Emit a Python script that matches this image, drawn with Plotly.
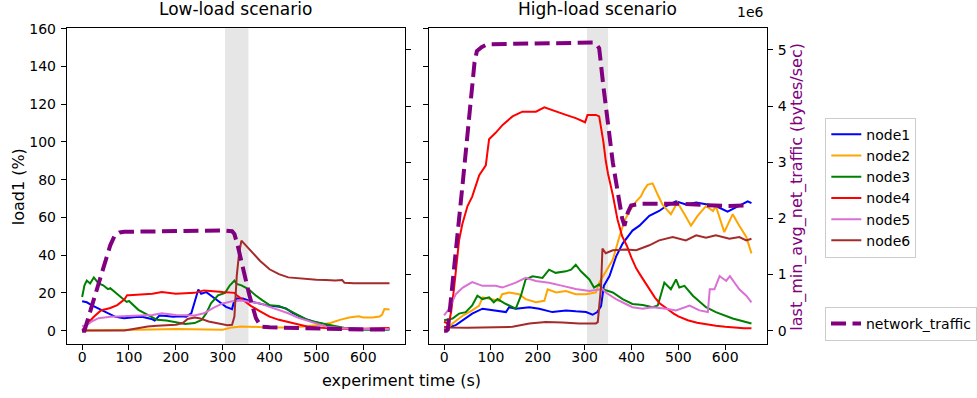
import plotly.graph_objects as go

# ---------------- data ----------------
# Low-load scenario
low_traffic_t = [0, 5, 20, 40, 60, 70, 80, 90, 150, 200, 250, 300, 320, 325, 331, 343, 357, 371, 382, 400, 450, 500, 550, 600, 656]
low_traffic_v = [0.0, 0.0, 0.42, 0.98, 1.52, 1.70, 1.75, 1.76, 1.77, 1.78, 1.785, 1.785, 1.77, 1.72, 1.55, 1.10, 0.63, 0.22, 0.07, 0.06, 0.05, 0.03, 0.02, 0.02, 0.02]

low_node1_t = [0, 10, 20, 30, 40, 50, 60, 70, 80, 90, 100, 110, 120, 130, 140, 150, 155, 165, 180, 194, 210, 222, 233, 240, 248, 254, 265, 279, 293, 307, 320, 323, 329, 343, 364, 393, 421, 435, 450, 464, 478, 492, 507, 521, 535, 560, 600, 656]
low_node1_v = [15.5, 15.0, 13.5, 12.2, 11.0, 9.8, 8.3, 7.4, 7.0, 6.6, 6.8, 7.0, 7.4, 7.2, 6.8, 6.0, 5.3, 8.0, 7.8, 7.4, 7.6, 7.4, 9.2, 15.5, 21.8, 19.5, 20.4, 17.8, 15.2, 12.6, 11.4, 14.4, 17.0, 17.0, 15.2, 13.5, 12.6, 11.8, 9.2, 7.4, 6.0, 4.8, 3.8, 3.1, 1.7, 1.3, 1.0, 0.9]

low_node2_t = [0, 50, 100, 150, 200, 250, 300, 320, 340, 400, 450, 500, 515, 530, 550, 570, 590, 600, 620, 635, 640, 645, 656]
low_node2_v = [0.0, 0.1, 0.4, 0.6, 0.8, 0.6, 0.5, 1.7, 2.2, 1.7, 1.7, 2.8, 3.5, 4.0, 5.7, 6.9, 7.6, 7.0, 6.9, 7.5, 8.3, 11.4, 11.2]

low_node3_t = [0, 5, 10, 17, 25, 35, 45, 55, 60, 70, 85, 95, 100, 120, 140, 160, 180, 200, 220, 240, 255, 265, 275, 290, 305, 315, 325, 330, 340, 355, 370, 385, 400, 420, 440, 460, 480, 500, 520, 540, 560, 600, 656]
low_node3_v = [17.8, 24.0, 26.5, 25.0, 28.2, 25.0, 24.0, 22.0, 22.5, 20.4, 17.0, 15.2, 15.7, 11.0, 8.3, 5.7, 5.4, 4.5, 3.5, 4.0, 5.7, 9.2, 14.4, 18.7, 20.0, 23.9, 26.5, 24.7, 24.0, 22.0, 18.7, 16.0, 13.5, 13.1, 11.0, 8.3, 5.7, 4.5, 3.5, 2.2, 1.4, 0.5, 0.5]

low_node4_t = [0, 9, 25, 40, 60, 75, 90, 96, 100, 150, 170, 200, 240, 260, 300, 325, 330, 345, 360, 380, 400, 420, 440, 460, 480, 500, 550, 600, 656]
low_node4_v = [0.0, 3.1, 7.3, 10.7, 12.0, 13.5, 16.5, 18.7, 18.7, 19.5, 20.4, 19.5, 20.0, 21.3, 20.4, 20.0, 18.7, 16.0, 13.1, 10.2, 7.4, 5.7, 4.5, 3.1, 2.2, 1.7, 1.0, 1.0, 1.4]

low_node5_t = [0, 10, 20, 35, 60, 100, 150, 170, 200, 240, 260, 280, 300, 320, 340, 360, 380, 400, 420, 440, 460, 480, 500, 520, 550, 600, 656]
low_node5_v = [2.5, 2.8, 4.8, 6.6, 7.4, 7.8, 8.3, 9.2, 8.3, 8.0, 9.2, 12.1, 14.4, 15.6, 16.0, 15.2, 14.4, 12.6, 11.0, 9.2, 6.9, 5.2, 3.5, 2.2, 1.4, 0.9, 0.9]

low_node6_t = [0, 90, 100, 120, 140, 160, 180, 200, 215, 225, 240, 250, 270, 290, 310, 320, 325, 330, 335, 340, 345, 360, 380, 400, 420, 440, 460, 480, 500, 520, 540, 555, 560, 580, 600, 656]
low_node6_v = [0.0, 0.0, 0.5, 1.4, 2.2, 2.6, 2.8, 3.1, 4.0, 6.2, 6.9, 6.6, 4.8, 3.6, 2.8, 3.1, 7.4, 29.0, 41.0, 47.7, 46.3, 42.0, 36.9, 32.5, 29.9, 28.2, 27.7, 27.3, 27.0, 26.8, 26.5, 26.8, 25.3, 25.1, 25.1, 25.1]

# High-load scenario
high_traffic_t = [0, 5, 8, 20, 30, 40, 50, 60, 65, 70, 80, 90, 100, 150, 200, 250, 300, 320, 325, 331, 340, 350, 360, 370, 380, 385, 392, 399, 420, 450, 500, 550, 600, 650]
high_traffic_v = [0.0, 0.0, 0.02, 0.95, 1.8, 2.65, 3.5, 4.35, 4.78, 4.98, 5.05, 5.09, 5.10, 5.11, 5.12, 5.12, 5.13, 5.13, 5.10, 5.03, 4.35, 3.6, 3.0, 2.5, 2.0, 1.87, 2.1, 2.23, 2.26, 2.26, 2.26, 2.24, 2.22, 2.23]

high_node1_t = [0, 10, 25, 40, 60, 82, 110, 132, 139, 153, 182, 203, 231, 260, 281, 303, 317, 327, 335, 341, 353, 367, 381, 402, 417, 438, 459, 474, 495, 516, 538, 559, 580, 605, 630, 648, 656]
high_node1_v = [1.5, 1.8, 2.9, 5.5, 9.0, 11.6, 10.7, 9.8, 12.4, 11.6, 12.4, 11.6, 9.8, 10.7, 10.2, 9.8, 8.4, 9.8, 13.0, 23.7, 28.9, 39.2, 46.1, 53.0, 55.6, 60.8, 63.4, 66.0, 68.5, 66.8, 67.9, 66.8, 66.0, 63.0, 66.0, 68.5, 67.5]

high_node2_t = [0, 11, 18, 40, 60, 75, 82, 103, 117, 124, 139, 160, 174, 196, 214, 221, 239, 260, 281, 303, 324, 331, 345, 360, 374, 385, 396, 410, 420, 427, 434, 445, 456, 466, 484, 498, 513, 527, 541, 559, 574, 580, 598, 616, 630, 645, 656]
high_node2_v = [1.5, 2.0, 3.8, 8.0, 10.7, 13.3, 17.6, 16.7, 15.8, 19.3, 20.2, 19.3, 16.7, 15.0, 15.8, 21.9, 20.2, 21.0, 19.3, 19.3, 20.2, 25.4, 31.0, 37.5, 49.6, 58.2, 63.4, 68.5, 71.1, 74.6, 77.2, 78.0, 72.0, 66.8, 61.7, 67.9, 61.7, 55.6, 60.8, 66.0, 63.4, 66.0, 52.2, 61.7, 55.6, 49.6, 40.9]

high_node3_t = [0, 18, 32, 46, 60, 71, 82, 96, 106, 114, 132, 153, 164, 174, 189, 210, 224, 238, 260, 271, 281, 292, 310, 320, 331, 338, 360, 381, 402, 424, 445, 456, 463, 470, 484, 495, 502, 513, 531, 559, 580, 616, 656]
high_node3_v = [5.5, 6.4, 9.0, 9.8, 13.3, 18.5, 16.7, 17.6, 15.0, 16.7, 14.1, 11.6, 18.5, 27.1, 28.8, 27.9, 32.3, 30.6, 31.4, 32.3, 34.9, 31.4, 27.1, 22.8, 24.5, 22.0, 20.2, 16.7, 14.1, 13.6, 12.4, 13.3, 19.3, 25.4, 21.9, 27.1, 22.8, 23.7, 18.5, 12.4, 9.8, 6.4, 3.8]

high_node4_t = [0, 5, 10, 15, 21, 32, 39, 50, 60, 75, 89, 96, 110, 125, 146, 167, 196, 214, 239, 260, 281, 301, 306, 324, 331, 335, 340, 345, 350, 360, 370, 380, 390, 400, 410, 420, 430, 440, 450, 460, 470, 480, 490, 500, 520, 540, 560, 580, 600, 620, 640, 656]
high_node4_v = [4.7, 4.0, 3.5, 10.0, 21.9, 47.8, 56.5, 66.0, 71.0, 82.4, 87.6, 101.4, 104.8, 109.0, 113.5, 116.0, 116.0, 118.3, 116.0, 114.3, 112.6, 110.4, 114.3, 114.3, 113.5, 108.0, 100.0, 90.0, 83.0, 72.0, 59.0, 50.0, 45.0, 38.5, 33.0, 29.0, 25.0, 21.0, 17.5, 14.5, 12.5, 10.5, 9.0, 7.5, 5.5, 4.2, 3.2, 2.6, 2.0, 1.5, 1.3, 1.2]

high_node5_t = [0, 11, 25, 40, 60, 82, 110, 124, 153, 174, 196, 224, 253, 281, 310, 338, 345, 367, 388, 402, 424, 445, 474, 495, 524, 545, 563, 567, 577, 588, 602, 610, 630, 645, 656]
high_node5_v = [8.1, 11.6, 19.3, 22.8, 25.7, 23.7, 23.7, 22.8, 25.4, 28.0, 26.3, 25.4, 23.7, 22.0, 21.0, 22.0, 20.2, 16.7, 14.1, 12.4, 11.6, 12.4, 11.6, 10.7, 13.3, 10.7, 9.8, 21.9, 21.9, 28.9, 26.3, 28.9, 21.9, 18.5, 15.0]

high_node6_t = [0, 10, 50, 100, 146, 182, 217, 253, 288, 324, 328, 335, 338, 345, 360, 388, 410, 438, 459, 488, 516, 538, 559, 580, 609, 630, 645, 656]
high_node6_v = [2.0, 1.6, 1.5, 1.8, 2.0, 3.8, 4.6, 4.3, 3.8, 3.8, 4.5, 23.6, 43.5, 41.0, 42.6, 43.0, 42.6, 45.2, 47.8, 49.6, 47.8, 50.5, 49.2, 50.5, 48.7, 49.6, 47.8, 48.7]

node_names = ["node1", "node2", "node3", "node4", "node5", "node6"]
node_colors = ["blue", "orange", "green", "red", "orchid", "brown"]
low_nodes = [(low_node1_t, low_node1_v), (low_node2_t, low_node2_v), (low_node3_t, low_node3_v),
             (low_node4_t, low_node4_v), (low_node5_t, low_node5_v), (low_node6_t, low_node6_v)]
high_nodes = [(high_node1_t, high_node1_v), (high_node2_t, high_node2_v), (high_node3_t, high_node3_v),
              (high_node4_t, high_node4_v), (high_node5_t, high_node5_v), (high_node6_t, high_node6_v)]

low_span = (305, 355)
high_span = (305, 350)

x_ticks = [0, 100, 200, 300, 400, 500, 600]
load_ticks = [0, 20, 40, 60, 80, 100, 120, 140, 160]
traffic_ticks = [0, 1, 2, 3, 4, 5]

# ---------------- figure ----------------
W, H = 977, 398
FONT = "DejaVu Sans"

def px_x(p):
    return p / W

def px_y(p):
    return 1 - p / H

fig = go.Figure()

for (t, v), name, col in zip(low_nodes, node_names, node_colors):
    fig.add_trace(go.Scatter(x=t, y=v, mode="lines", name=name, line=dict(color=col, width=2),
                             xaxis="x", yaxis="y", legend="legend", showlegend=True))
for (t, v), name, col in zip(high_nodes, node_names, node_colors):
    fig.add_trace(go.Scatter(x=t, y=v, mode="lines", name=name, line=dict(color=col, width=2),
                             xaxis="x2", yaxis="y2", legend="legend", showlegend=False))

fig.add_trace(go.Scatter(x=low_traffic_t, y=low_traffic_v, mode="lines", name="network_traffic",
                         line=dict(color="purple", width=4, dash="15px,6.5px"),
                         xaxis="x", yaxis="y3", legend="legend2", showlegend=True))
fig.add_trace(go.Scatter(x=high_traffic_t, y=high_traffic_v, mode="lines", name="network_traffic",
                         line=dict(color="purple", width=4, dash="15px,6.5px"),
                         xaxis="x2", yaxis="y4", legend="legend2", showlegend=False))

x_range = [-32.8, 688.8]
load_range = [-7.0, 160.2]
traffic_range = [-0.234, 5.385]
ydom = [1 - 342.7 / H, 1 - 20.7 / H]

axis_common = dict(showline=True, linecolor="black", linewidth=1, ticks="outside", ticklen=5,
                   tickwidth=1, tickcolor="black", showgrid=False, zeroline=False,
                   tickfont=dict(family=FONT, size=14, color="black"))

fig.update_layout(
    width=W, height=H,
    margin=dict(l=0, r=0, t=0, b=0),
    paper_bgcolor="white", plot_bgcolor="white",
    font=dict(family=FONT, size=14, color="black"),
    xaxis=dict(domain=[66.9 / W, 405.7 / W], range=x_range, tickvals=x_ticks, anchor="y",
               mirror=True, ticklabelstandoff=-5, **axis_common),
    xaxis2=dict(domain=[429.6 / W, 768.4 / W], range=x_range, tickvals=x_ticks, anchor="y2",
                mirror=True, ticklabelstandoff=-5, **axis_common),
    yaxis=dict(domain=ydom, range=load_range, tickvals=load_ticks, anchor="x", side="left",
               ticklabelstandoff=2, **axis_common),
    yaxis2=dict(domain=ydom, range=load_range, tickvals=load_ticks, anchor="x2", side="left",
                showticklabels=False, **axis_common),
    yaxis3=dict(range=traffic_range, tickvals=traffic_ticks, anchor="x", overlaying="y", side="right",
                showticklabels=False, **axis_common),
    yaxis4=dict(range=traffic_range, tickvals=traffic_ticks, anchor="x2", overlaying="y2", side="right",
                showticklabels=True, ticklabelstandoff=2, **axis_common),
    legend=dict(x=827 / W, y=px_y(112), xanchor="left", yanchor="top", bgcolor="white",
                bordercolor="#cccccc", borderwidth=1, font=dict(family=FONT, size=14, color="black"),
                tracegroupgap=0),
    legend2=dict(x=827 / W, y=px_y(305), xanchor="left", yanchor="top", bgcolor="white",
                 bordercolor="#cccccc", borderwidth=1, font=dict(family=FONT, size=14, color="black")),
    shapes=[
        dict(type="rect", xref="x", yref="y domain", x0=low_span[0], x1=low_span[1], y0=0, y1=1,
             fillcolor="rgba(128,128,128,0.2)", line=dict(width=0), layer="below"),
        dict(type="rect", xref="x2", yref="y2 domain", x0=high_span[0], x1=high_span[1], y0=0, y1=1,
             fillcolor="rgba(128,128,128,0.2)", line=dict(width=0), layer="below"),
    ],
    annotations=[
        dict(text="Low-load scenario", x=px_x(236), y=px_y(1.5), xref="paper", yref="paper",
             showarrow=False, xanchor="center", yanchor="middle", font=dict(family=FONT, size=17)),
        dict(text="High-load scenario", x=px_x(599), y=px_y(1.5), xref="paper", yref="paper",
             showarrow=False, xanchor="center", yanchor="middle", font=dict(family=FONT, size=17)),
        dict(text="1e6", x=px_x(768), y=px_y(4), xref="paper", yref="paper",
             showarrow=False, xanchor="right", yanchor="middle", font=dict(family=FONT, size=14)),
        dict(text="load1 (%)", x=px_x(18), y=px_y(182), xref="paper", yref="paper", textangle=-90,
             showarrow=False, xanchor="center", yanchor="middle", font=dict(family=FONT, size=16)),
        dict(text="last_min_avg_net_traffic (bytes/sec)", x=px_x(799), y=px_y(182), xref="paper",
             yref="paper", textangle=-90, showarrow=False, xanchor="center", yanchor="middle",
             font=dict(family=FONT, size=16, color="purple")),
        dict(text="experiment time (s)", x=px_x(402), y=px_y(380), xref="paper", yref="paper",
             showarrow=False, xanchor="center", yanchor="middle", font=dict(family=FONT, size=16)),
    ],
)

fig.write_html("out.html")
